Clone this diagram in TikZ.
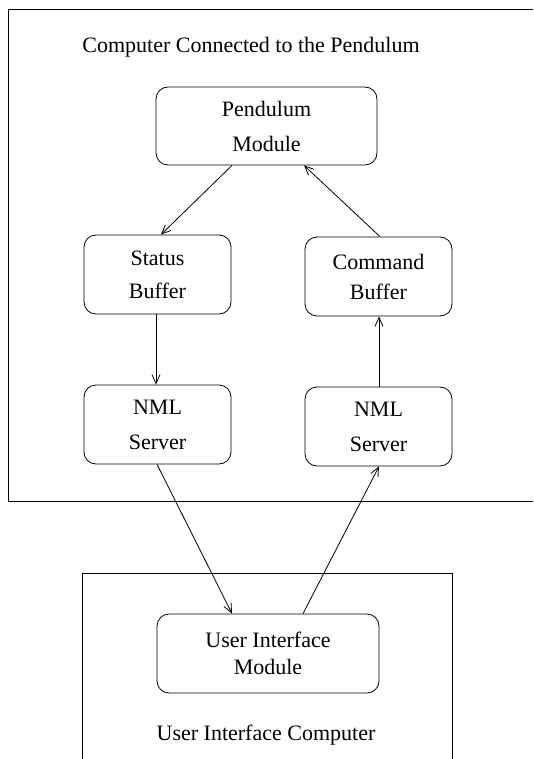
\documentclass[tikz,border=0pt]{standalone}
\usepackage{fontspec}
\setmainfont{Liberation Serif}
\usetikzlibrary{arrows.meta}
\begin{document}
\begin{tikzpicture}[x=1pt,y=-1pt,
  line width=0.8pt,
  >={Straight Barb[length=9pt,width=8pt]},
  box/.style={draw, rounded corners=12pt, minimum width=147pt, minimum height=79pt, align=center, inner sep=0pt, font=\fontsize{22}{35}\selectfont},
  lbl/.style={font=\fontsize{22}{26}\selectfont, inner sep=0pt}]
\useasboundingbox (0,0) rectangle (533,759);
% enclosures
\draw (533,9) -- (8,9) -- (8,501) -- (533,501);
\draw (82,759) -- (82,573) -- (452,573) -- (452,759);
\node[lbl, anchor=base west] (title) at (82,53) {Computer Connected to the Pendulum};
\node[lbl, anchor=base] (uic) at (266,740) {User Interface Computer};
% boxes
\node[box, minimum width=221pt, minimum height=78pt] (pend) at (266.5,126) {Pendulum\\Module};
\node[box, font=\fontsize{22}{33}\selectfont] (stat) at (157.5,274.5) {Status\\Buffer};
\node[box, font=\fontsize{22}{30}\selectfont] (cmd) at (378.5,276.5) {Command\\Buffer};
\node[box] (nmlL) at (157.5,424.5) {NML\\Server};
\node[box] (nmlR) at (378.5,426.5) {NML\\Server};
\node[box, minimum width=222pt, font=\fontsize{22}{27}\selectfont] (ui) at (268,653.5) {User Interface\\Module};
% connectors
\draw[->] ([xshift=-34.5pt]pend.south) -- ([xshift=3.5pt]stat.north);
\draw[->] ([xshift=1.5pt]cmd.north) -- ([xshift=37.5pt]pend.south);
\draw[->] ([xshift=-1.5pt]stat.south) -- ([xshift=-1.5pt]nmlL.north);
\draw[->] ([xshift=0.5pt]nmlR.north) -- ([xshift=0.5pt]cmd.south);
\draw[->] ([xshift=-0.5pt]nmlL.south) -- ([xshift=-36pt]ui.north);
\draw[->] ([xshift=35pt]ui.north) -- ([xshift=0.5pt]nmlR.south);
\end{tikzpicture}
\end{document}
